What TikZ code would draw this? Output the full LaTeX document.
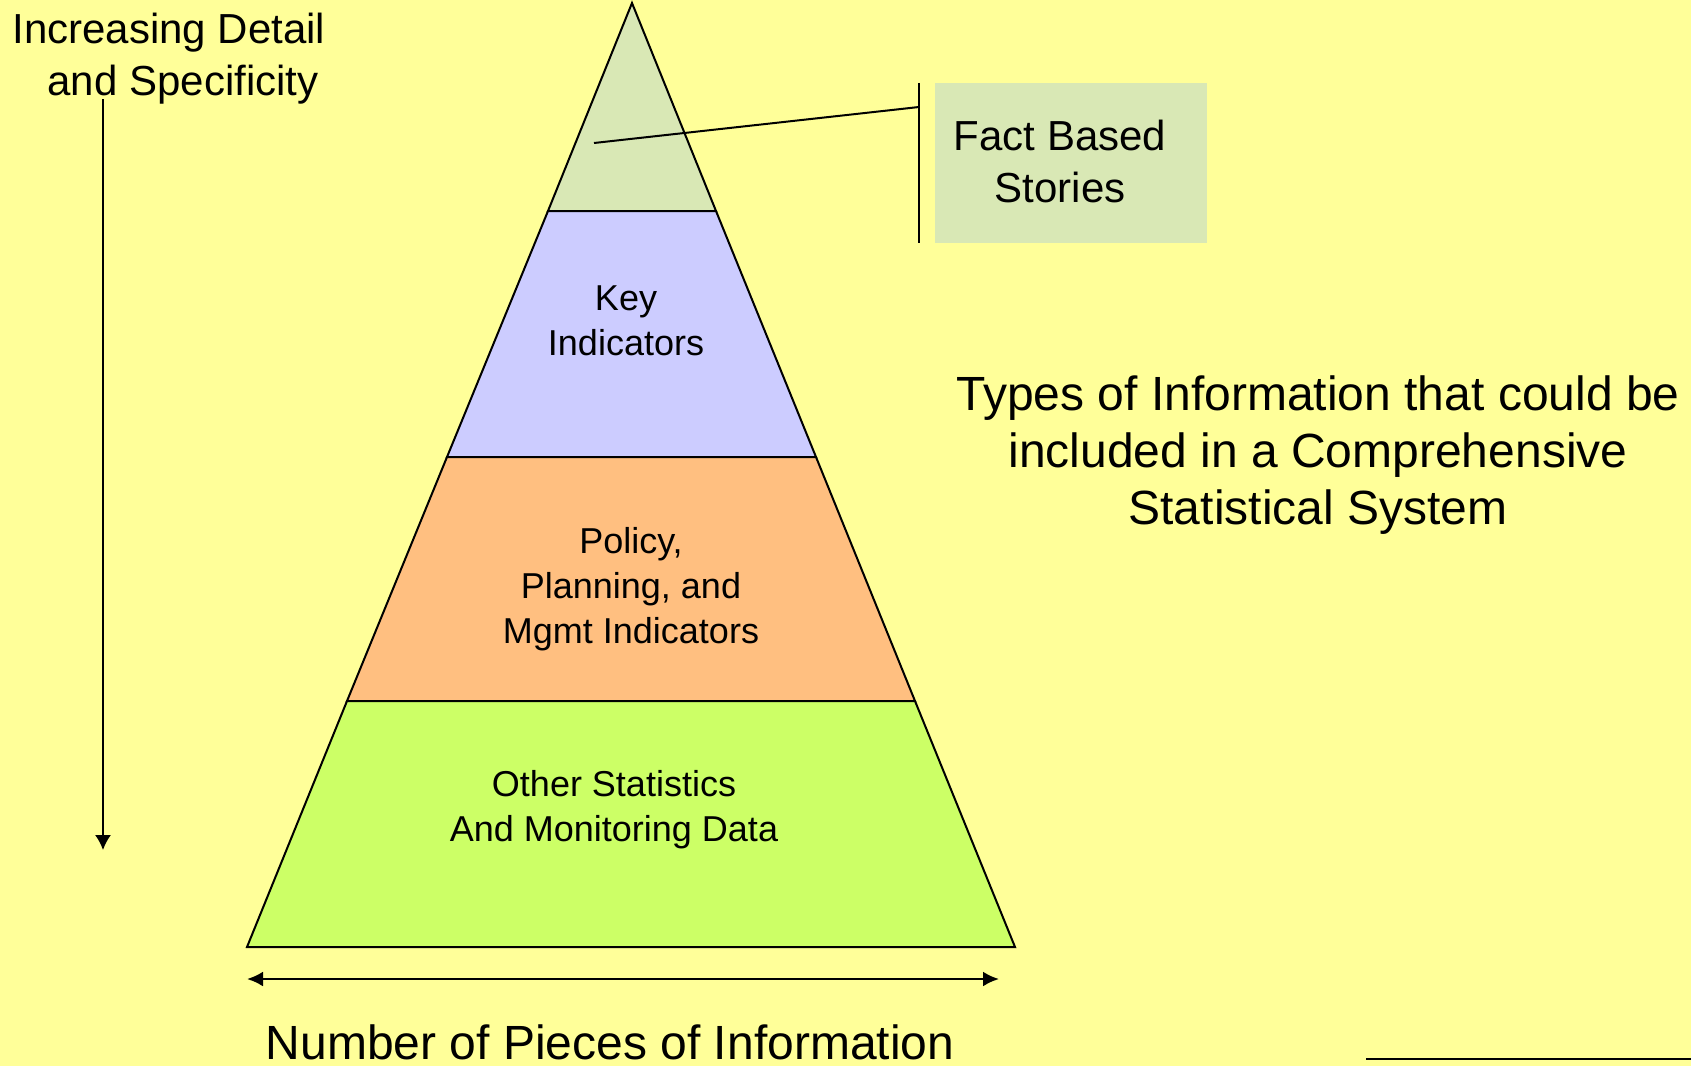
\documentclass[tikz,border=0pt]{standalone}
\usepackage{fontspec}
\setmainfont{Liberation Sans}
\usetikzlibrary{positioning,calc,arrows.meta}
\definecolor{paleyellow}{rgb}{1.00,1.00,0.60}
\definecolor{sage}{rgb}{0.85,0.91,0.71}
\definecolor{lavender}{rgb}{0.80,0.80,1.00}
\definecolor{peach}{rgb}{1.00,0.75,0.50}
\definecolor{grass}{rgb}{0.80,1.00,0.40}
\newcommand{\tierfont}{\fontsize{36}{45}\selectfont}
\newcommand{\notefont}{\fontsize{42}{52}\selectfont}
\newcommand{\titlefont}{\fontsize{48}{57}\selectfont}

\begin{document}
\begin{tikzpicture}[x=1pt,y=-1pt,every node/.style={align=center,inner sep=0pt},tier/.style={draw=black,line width=2pt}]
\useasboundingbox (0,0) rectangle (1691,1066);
\fill[paleyellow] (0,0) rectangle (1691,1066);

\filldraw[tier,fill=sage] (632,3) -- (716,211) -- (548,211) -- cycle;
\filldraw[tier,fill=lavender] (548,211) -- (716,211) -- (816,457) -- (447,457) -- cycle;
\filldraw[tier,fill=peach] (447,457) -- (816,457) -- (915,701) -- (347,701) -- cycle;
\filldraw[tier,fill=grass] (347,701) -- (915,701) -- (1015,947) -- (247,947) -- cycle;

\node[font=\tierfont] (key) at (626,321) {Key\\Indicators};
\node[font=\tierfont] (policy) at (631,589) {Policy,\\Planning, and\\Mgmt Indicators};
\node[font=\tierfont] (other) at (614,810) {Other Statistics\\And Monitoring Data};

\node[fill=sage,minimum width=272pt,minimum height=160pt] (factbox) at (1071,163) {};
\node[font=\notefont] (facts) at ([xshift=-11pt,yshift=2pt]factbox.center) {Fact Based\\Stories};
\coordinate (btop) at ([xshift=-16pt]factbox.north west);
\coordinate (bbot) at ([xshift=-16pt]factbox.south west);
\draw[line width=2pt] (btop) -- (bbot);
\coordinate (pin) at (594,143);
\coordinate (hook) at (919,107);
\draw[line width=2pt] (pin) -- (hook);

\node[font=\titlefont] (types) at (1318,455) {Types of Information that could be\\included in a Comprehensive\\Statistical System};

\node[font=\notefont] (detail) at (169,59) {Increasing Detail\\\hspace*{28pt}and Specificity};
\coordinate (dtop) at (103,99);
\coordinate (dbot) at (103,850);
\draw[line width=1.7pt,-{Latex[length=15pt,width=16pt]}] (dtop) -- (dbot);

\coordinate (wl) at (247,979);
\coordinate (wr) at (999,979);
\draw[line width=2.5pt,{Latex[length=16pt,width=15pt]}-{Latex[length=16pt,width=15pt]}] (wl) -- (wr);
\node[font=\titlefont,anchor=base] (count) at (610,1059) {Number of Pieces of Information};

\coordinate (rulestart) at (1366,1059);
\coordinate (ruleend) at (1691,1059);
\draw[line width=2.5pt] (rulestart) -- (ruleend);
\end{tikzpicture}
\end{document}
